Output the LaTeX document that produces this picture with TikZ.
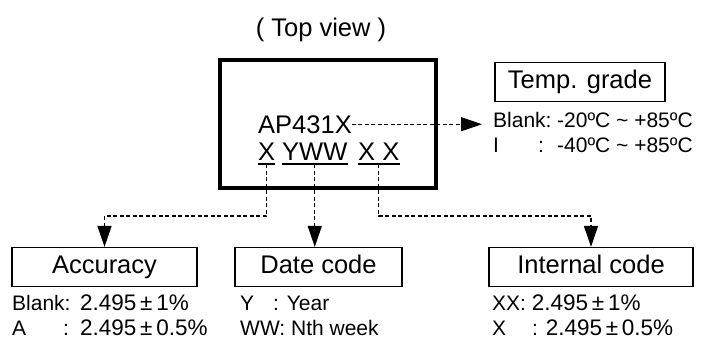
\documentclass[tikz,border=0pt]{standalone}
\usepackage{fontspec}
\setmainfont{Liberation Sans}
\usetikzlibrary{arrows.meta, positioning}
\newcommand{\bigf}{\fontsize{25.5}{30}\selectfont}
\newcommand{\smf}{\fontsize{21}{25}\selectfont}
\newcommand{\numf}{\fontsize{22.5}{27}\selectfont}

\begin{document}
\begin{tikzpicture}[x=1pt, y=-1pt,
  chip/.style  = {draw, line width=4pt, minimum width=216pt, minimum height=128pt, inner sep=0pt},
  title/.style = {draw, line width=1.2pt, font=\bigf, minimum height=39pt, inner sep=0pt,
                  text height=18.5pt, text depth=5pt},
  code/.style  = {font=\bigf, inner sep=0pt, anchor=base west},
  note/.style  = {font=\smf, inner sep=0pt, anchor=base west},
  link/.style  = {line width=1.3pt, dash pattern=on 4pt off 2.5pt,
                  -{Triangle[length=21pt, width=14pt]}}]

\useasboundingbox (0,0) rectangle (701,341);

% package outline and its marking
\node[font=\bigf, anchor=base] (view) at (321,36) {( Top view )};
\node[chip] (chip) at (328,124) {};
\node[code] (ap)   at (258,133) {AP431X};
\node[code] (mx)   at (258,160) {X};
\node[code] (myww) at (282,160) {YWW};
\node[code] (mxx)  at (358,160) {X X};

\foreach \n in {mx,myww,mxx}
  \draw[line width=1.2pt] ([yshift=-4pt]\n.base west) -- ([yshift=-4pt]\n.base east);

% temperature grade
\node[title, minimum width=170pt] (temp) at (580,82) {Temp. grade};
\node[note] (t1) at (493,127) {\makebox[64pt][l]{Blank:}-20ºC \textasciitilde{} +85ºC};
\node[note] (t2) at (493,152) {\makebox[45pt][l]{I}\makebox[19pt][l]{:}-40ºC \textasciitilde{} +85ºC};

% the three fields below
\node[title, minimum width=185pt] (acc)  at (104.5,267) {Accuracy};
\node[title, minimum width=167pt] (date) at (318.5,267) {Date code};
\node[title, minimum width=204pt] (intl) at (591,267)   {Internal code};

\node[note] (a1) at (12,310) {\makebox[68pt][l]{Blank:}{\numf 2.495\,±\,1\%}};
\node[note] (a2) at (12,335) {\makebox[51pt][l]{A}\makebox[17pt][l]{:}{\numf 2.495\,±\,0.5\%}};

\node[note] (d1) at (240,310) {\makebox[33pt][l]{Y}: Year};
\node[note] (d2) at (240,335) {WW: Nth week};

\node[note] (i1) at (492,310) {XX: {\numf 2.495\,±\,1\%}};
\node[note] (i2) at (492,335) {\makebox[40pt][l]{X}: {\numf 2.495\,±\,0.5\%}};

% dashed links
\coordinate (lvl) at (0,216);
\draw[link, shorten >=11pt] (ap.east) -- (ap.east -| t1.west);
\draw[link] ([yshift=-4pt]mx.base) -- (mx.base |- lvl) -| (acc.north);
\draw[link] ([yshift=-4pt]myww.base) -- (myww.base |- date.north);
\draw[link] ([yshift=-4pt]mxx.base) -- (mxx.base |- lvl) -| (intl.north);

\end{tikzpicture}
\end{document}
